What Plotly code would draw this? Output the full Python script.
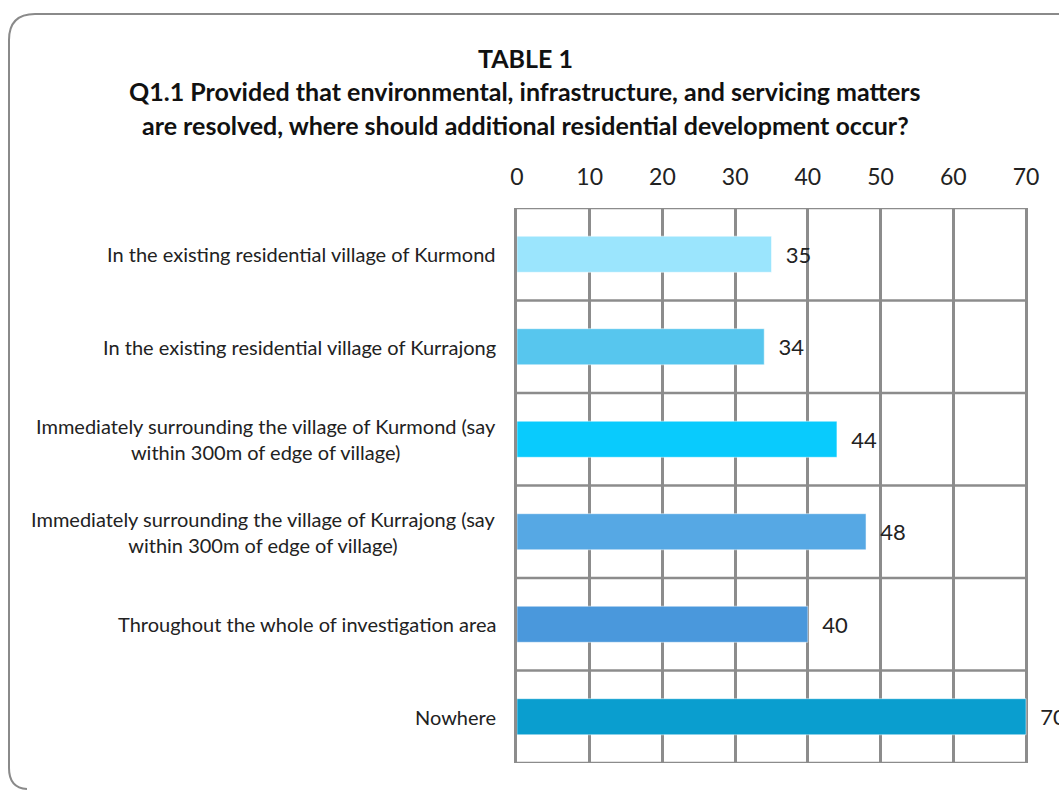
import plotly.graph_objects as go

categories = [
    "In the existing residential village of Kurmond",
    "In the existing residential village of Kurrajong",
    "Immediately surrounding the village of Kurmond (say<br>within 300m of edge of village)",
    "Immediately surrounding the village of Kurrajong (say<br>within 300m of edge of village)",
    "Throughout the whole of investigation area",
    "Nowhere",
]
values = [35, 34, 44, 48, 40, 70]
colors = ["#9BE5FD", "#57C6EE", "#09CBFD", "#56A8E4", "#4A98DC", "#0A9ECF"]
x_ticks = [0, 10, 20, 30, 40, 50, 60, 70]
title_lines = [
    "TABLE 1",
    "Q1.1 Provided that environmental, infrastructure, and servicing matters",
    "are resolved, where should additional residential development occur?",
]

W, H = 1059, 790
L, R, T, B = 517, 1026, 208, 763
XMAX = 70
FONT = "Lato"
GRID = "#8C8C8C"

pos = list(range(len(categories)))
# x axis spans to the canvas edge so that the "70" label gets clipped like the original
x_range_max = XMAX * (W - L) / (R - L)

fig = go.Figure()
fig.add_trace(go.Bar(
    x=values, y=pos, orientation="h",
    marker=dict(color=colors, line=dict(color="rgba(255,255,255,0.5)", width=1)),
    width=0.39, hoverinfo="x",
    text=[str(v) for v in values], texttemplate="  %{text}", textposition="outside",
    textfont=dict(family=FONT, size=22, color="#222222"),
    constraintext="none", cliponaxis=True,
))

annotations = []
for p, c in zip(pos, categories):
    annotations.append(dict(x=L / W, y=p, xref="paper", yref="y", text=c, showarrow=False,
                            xanchor="right", yanchor="middle", align="center",
                            xshift=-19, font=dict(family=FONT, size=20, color="#222222")))
title_y = [58, 91, 125]
for t, yy in zip(title_lines, title_y):
    annotations.append(dict(x=525 / W, y=1 - yy / H, xref="paper", yref="paper", text="<b>" + t + "</b>",
                            showarrow=False, xanchor="center", yanchor="middle",
                            font=dict(family=FONT, size=25, color="#111111")))

shapes = []
for k in range(0, len(categories) + 1):
    shapes.append(dict(type="line", xref="x", yref="y", x0=0, x1=XMAX, y0=k - 0.5, y1=k - 0.5,
                       line=dict(color=GRID, width=2.5), layer="below"))
# rounded outer border (kept inside the canvas)
r = 26
x0, y0 = 9, 14
path = (f"M {x0/W} {1-(y0+r)/H} Q {x0/W} {1-y0/H} {(x0+r)/W} {1-y0/H} L 1 {1-y0/H} "
        f"M {x0/W} {1-(y0+r)/H} L {x0/W} {1-(H-22)/H} Q {x0/W} {1-(H-2)/H} {(x0+18)/W} {1-(H-1)/H}")
shapes.append(dict(type="path", xref="paper", yref="paper", path=path,
                   line=dict(color="#8A8A8A", width=2)))

fig.update_layout(
    width=W, height=H, margin=dict(l=0, r=0, t=0, b=0),
    paper_bgcolor="white", plot_bgcolor="white",
    showlegend=False, bargap=0.6,
    annotations=annotations, shapes=shapes,
    xaxis=dict(domain=[L / W, 1.0], range=[0, x_range_max], side="top", tickvals=x_ticks,
               showgrid=True, gridcolor=GRID, gridwidth=2.5, zeroline=False,
               showline=False, ticks="", ticklabelstandoff=17, automargin=False,
               tickfont=dict(family=FONT, size=23, color="#222222"), fixedrange=True),
    yaxis=dict(domain=[1 - B / H, 1 - T / H], range=[5.5, -0.5], showticklabels=False,
               showgrid=False, zeroline=False, showline=True, linecolor=GRID, linewidth=2.5,
               mirror=False, ticks="", fixedrange=True, automargin=False),
)

fig.write_html("out.html")
